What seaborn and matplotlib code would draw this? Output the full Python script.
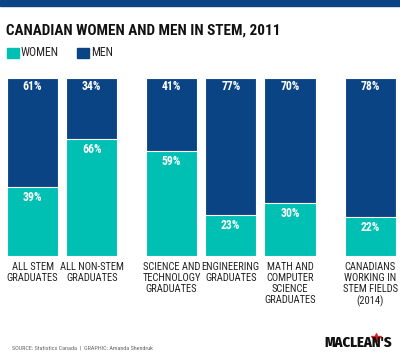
import pandas as pd
import seaborn as sns
import matplotlib.pyplot as plt
from matplotlib.lines import Line2D

# data
categories = ["ALL STEM\nGRADUATES", "ALL NON-STEM\nGRADUATES", "SCIENCE AND\nTECHNOLOGY\nGRADUATES",
              "ENGINEERING\nGRADUATES", "MATH AND\nCOMPUTER\nSCIENCE\nGRADUATES",
              "CANADIANS\nWORKING IN\nSTEM FIELDS\n(2014)"]
women = [39, 66, 59, 23, 30, 22]
men = [61, 34, 41, 77, 70, 78]
positions = [0, 1, 2.35, 3.35, 4.35, 5.71]

teal = "#00BFB3"
navy = "#0B4485"

sns.set_theme(style="white")
plt.rcParams['font.family'] = ['Roboto Condensed', 'DejaVu Sans']

df = pd.DataFrame({"pos": positions, "women": women, "men": men})
df["total"] = df["women"] + df["men"]

fig = plt.figure(figsize=(4, 3.54), dpi=100)
ax = fig.add_axes([7 / 400, 98 / 354, 389 / 400, 178 / 354])

sns.barplot(data=df, x="pos", y="total", native_scale=True, color=navy, width=0.865,
            edgecolor="white", linewidth=0.8, saturation=1, ax=ax)
sns.barplot(data=df, x="pos", y="women", native_scale=True, color=teal, width=0.865,
            edgecolor="white", linewidth=0.8, saturation=1, ax=ax)

ax.set_xlim(positions[0] - 0.4325, positions[-1] + 0.4325)
ax.set_ylim(0, 100)
ax.axis("off")

for p, w, m, c in zip(positions, women, men, categories):
    ax.text(p, 95, f"{m}%", ha="center", va="center", color="white", fontsize=8.5, fontweight="bold")
    ax.text(p, w - 6, f"{w}%", ha="center", va="center", color="white", fontsize=8.5, fontweight="bold")
    ax.text(p, -3.5, c, ha="center", va="top", color="#222222", fontsize=7.6, linespacing=1.12)

# header strip, title and legend
fig.patches.append(plt.Rectangle((0, 1 - 6 / 354), 1, 6 / 354, transform=fig.transFigure,
                                 color=navy, zorder=0))
fig.text(6 / 400, 1 - 31 / 354, "CANADIAN WOMEN AND MEN IN STEM, 2011", ha="left", va="center",
         fontsize=10.9, fontweight="bold", color="#111111")
fig.patches.append(plt.Rectangle((7 / 400, 1 - 58 / 354), 12 / 400, 10 / 354,
                                 transform=fig.transFigure, color=teal))
fig.text(21 / 400, 1 - 53 / 354, "WOMEN", ha="left", va="center", fontsize=8.5, color="#222222")
fig.patches.append(plt.Rectangle((77 / 400, 1 - 58 / 354), 12 / 400, 10 / 354,
                                 transform=fig.transFigure, color=navy))
fig.text(91 / 400, 1 - 53 / 354, "MEN", ha="left", va="center", fontsize=8.5, color="#222222")

# footer
fig.text(12 / 400, 1 - 348 / 354, "SOURCE: Statistics Canada  |  GRAPHIC: Amanda Shendruk",
         ha="left", va="center", fontsize=4.4, color="#666666")
fig.text(392 / 400, 1 - 343 / 354, "MACLEAN'S", ha="right", va="center", fontsize=10.5,
         fontweight="heavy", color="#111111", family="Fira Sans Condensed")
fig.add_artist(Line2D([376 / 400], [1 - 338 / 354], marker="*", markersize=7, color="#E02020",
                      transform=fig.transFigure))

fig.savefig("out.png", dpi=100)
